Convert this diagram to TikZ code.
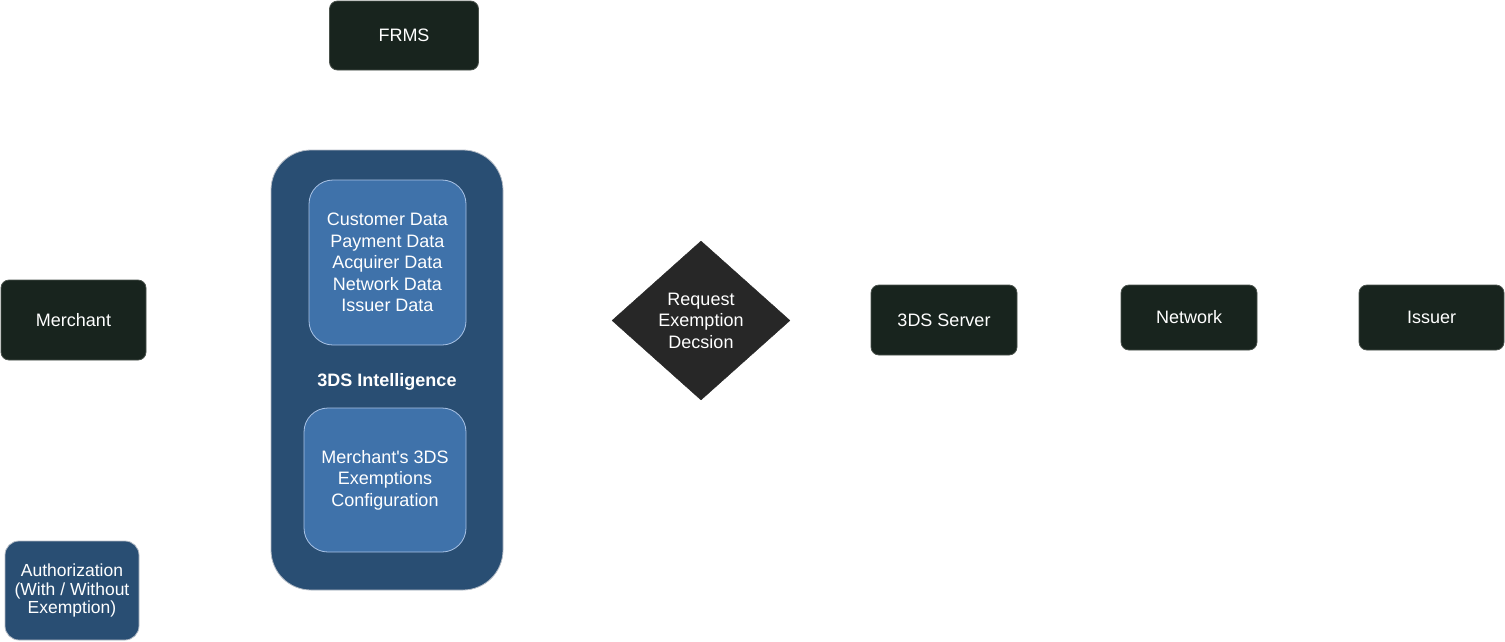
\documentclass[tikz,border=0pt]{standalone}
\usepackage{fontspec}
\setmainfont{Liberation Sans}[Ligatures=TeXOff]
\usetikzlibrary{shapes.geometric}
\definecolor{darkbox}{HTML}{18241E}
\definecolor{darkedge}{HTML}{4A524C}
\definecolor{navy}{HTML}{294E73}
\definecolor{navyedge}{HTML}{B4BCC6}
\definecolor{midblue}{HTML}{3F72AA}
\definecolor{midedge}{HTML}{A9C3E6}
\definecolor{diamondfill}{HTML}{272727}
\tikzset{
  x=1pt, y=-1pt,
  txt/.style={text=white, font=\fontsize{18}{21.5}\selectfont, align=center},
  darknode/.style={txt, draw=darkedge, line width=0.8pt, fill=darkbox, rounded corners=8pt, inner sep=0pt},
  navynode/.style={txt, draw=navyedge, line width=0.8pt, fill=navy, rounded corners=14pt, inner sep=0pt},
  innernode/.style={txt, draw=midedge, line width=0.8pt, fill=midblue, rounded corners=24pt, inner sep=0pt},
  decision/.style={txt, diamond, fill=diamondfill, draw=diamondfill, inner sep=0pt},
}
\begin{document}
\begin{tikzpicture}
\useasboundingbox (0,0) rectangle (1505,641);
% FRMS
\node[darknode, minimum width=149pt, minimum height=69pt] (frms) at (404,35.5) {FRMS};
% Merchant
\node[darknode, minimum width=145pt, minimum height=80pt] (merchant) at (73.5,320) {Merchant};
% Authorization
\node[navynode, font=\fontsize{17.5}{18.5}\selectfont, minimum width=134pt, minimum height=99pt] (auth) at (72,590.5) {Authorization\\(With / Without\\Exemption)};
% 3DS Intelligence container
\node[navynode, rounded corners=40pt, minimum width=232pt, minimum height=440pt] (intel) at (387,370) {};
\node[txt, font=\fontsize{18}{21.5}\selectfont\bfseries] (intellabel) at (387,382) {3DS Intelligence};
\node[innernode, minimum width=157pt, minimum height=165pt] (data) at (387.5,262.5) {Customer Data\\Payment Data\\Acquirer Data\\Network Data\\Issuer Data};
\node[innernode, minimum width=162pt, minimum height=144pt] (config) at (385,480) {Merchant's 3DS\\Exemptions\\Configuration};
% Decision
\node[decision, minimum width=178pt, minimum height=159pt] (decision) at (701,320.5) {Request\\Exemption\\Decsion};
% Right nodes
\node[darknode, minimum width=146pt, minimum height=70pt] (server) at (944,320) {3DS Server};
\node[darknode, minimum width=136pt, minimum height=65pt] (network) at (1189,317.5) {Network};
\node[darknode, minimum width=145pt, minimum height=65pt] (issuer) at (1431.5,317.5) {Issuer};
\end{tikzpicture}
\end{document}
